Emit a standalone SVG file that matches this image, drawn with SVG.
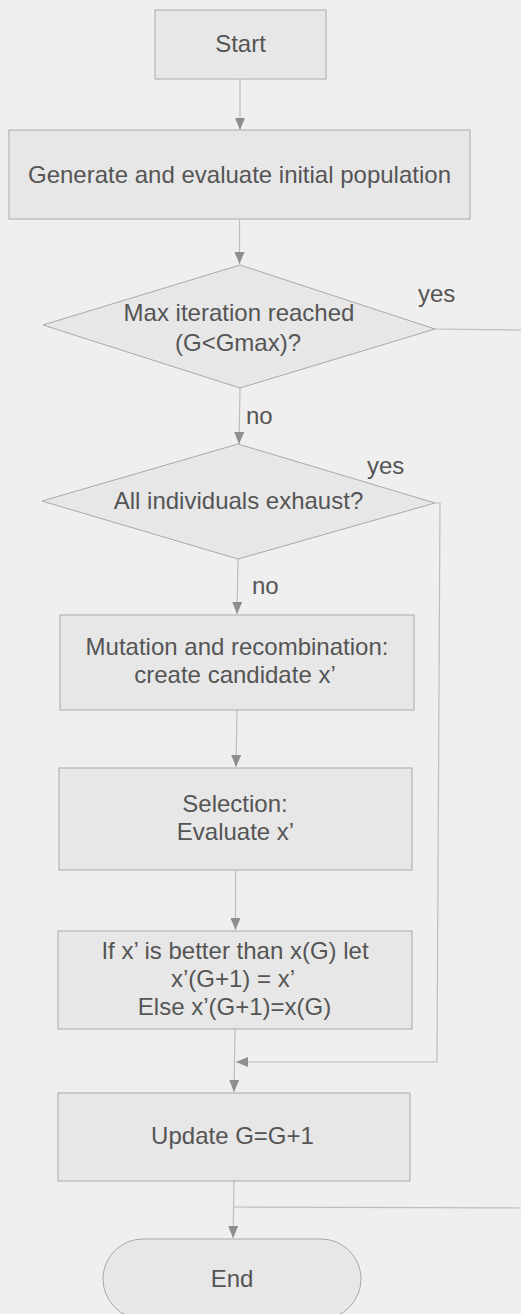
<svg xmlns="http://www.w3.org/2000/svg" width="521" height="1314" viewBox="0 0 521 1314">
  <style>
    .node { fill: #e7e7e7; stroke: #a9a9a9; stroke-width: 1; }
    .label { font-family: "Liberation Sans", Arial, sans-serif; font-size: 24px; fill: #555555; text-anchor: middle; }
    .tag { font-family: "Liberation Sans", Arial, sans-serif; font-size: 24px; fill: #555555; }
    .wire { fill: none; stroke: #bdbdbd; stroke-width: 1.2; }
  </style>
  <defs>
    <marker id="arrow" viewBox="0 0 12 10" refX="12" refY="5" markerWidth="12" markerHeight="10" markerUnits="userSpaceOnUse" orient="auto">
      <path d="M0,0 L12,5 L0,10 Z" fill="#8e8e8e"/>
    </marker>
  </defs>

  <rect width="521" height="1314" fill="#efefef"/>

  <!-- connectors -->
  <g id="connectors">
    <path class="wire" d="M240,79 L240,130" marker-end="url(#arrow)"/>
    <path class="wire" d="M239.5,220 L239.5,264" marker-end="url(#arrow)"/>
    <path class="wire" d="M240,388 L239,444" marker-end="url(#arrow)"/>
    <path class="wire" d="M435,329 L521,330"/>
    <path class="wire" d="M238,559 L237,614" marker-end="url(#arrow)"/>
    <path class="wire" d="M237,710 L236,767" marker-end="url(#arrow)"/>
    <path class="wire" d="M235.5,870 L235.5,930" marker-end="url(#arrow)"/>
    <path class="wire" d="M235,1029 L234,1092" marker-end="url(#arrow)"/>
    <path class="wire" d="M435,503 L440,503 L437,1062 L236,1062" marker-end="url(#arrow)"/>
    <path class="wire" d="M234,1181 L233,1238" marker-end="url(#arrow)"/>
    <path class="wire" d="M521,1208 L233,1207"/>
    <text class="tag" x="418" y="302">yes</text>
    <text class="tag" x="246" y="424">no</text>
    <text class="tag" x="367" y="474">yes</text>
    <text class="tag" x="252" y="594">no</text>
  </g>

  <g id="start">
    <rect class="node" x="155" y="10" width="171" height="69"/>
    <text class="label" x="240.5" y="52">Start</text>
  </g>

  <g id="init-population">
    <rect class="node" x="9" y="130" width="461" height="89"/>
    <text class="label" x="239.5" y="183">Generate and evaluate initial population</text>
  </g>

  <g id="max-iteration">
    <polygon class="node" points="240,265 435,329 240,388 43,325"/>
    <text class="label" x="239" y="321">Max iteration reached</text>
    <text class="label" x="238" y="351">(G&lt;Gmax)?</text>
  </g>

  <g id="individuals-exhaust">
    <polygon class="node" points="238,444 435,503 238,559 42,501"/>
    <text class="label" x="238.5" y="509">All individuals exhaust?</text>
  </g>

  <g id="mutation">
    <rect class="node" x="60" y="615" width="354" height="95"/>
    <text class="label" x="237" y="655">Mutation and recombination:</text>
    <text class="label" x="235" y="683">create candidate x’</text>
  </g>

  <g id="selection">
    <rect class="node" x="59" y="768" width="353" height="102"/>
    <text class="label" x="235" y="812">Selection:</text>
    <text class="label" x="235.5" y="840">Evaluate x’</text>
  </g>

  <g id="compare">
    <rect class="node" x="58" y="931" width="354" height="98"/>
    <text class="label" x="235" y="959">If x’ is better than x(G) let</text>
    <text class="label" x="233" y="987">x’(G+1) = x’</text>
    <text class="label" x="234.5" y="1015">Else x’(G+1)=x(G)</text>
  </g>

  <g id="update">
    <rect class="node" x="58" y="1093" width="352" height="88"/>
    <text class="label" x="232.5" y="1144">Update G=G+1</text>
  </g>

  <g id="end">
    <rect class="node" x="103" y="1239" width="258" height="80" rx="40" ry="40"/>
    <text class="label" x="232" y="1287">End</text>
  </g>
</svg>
